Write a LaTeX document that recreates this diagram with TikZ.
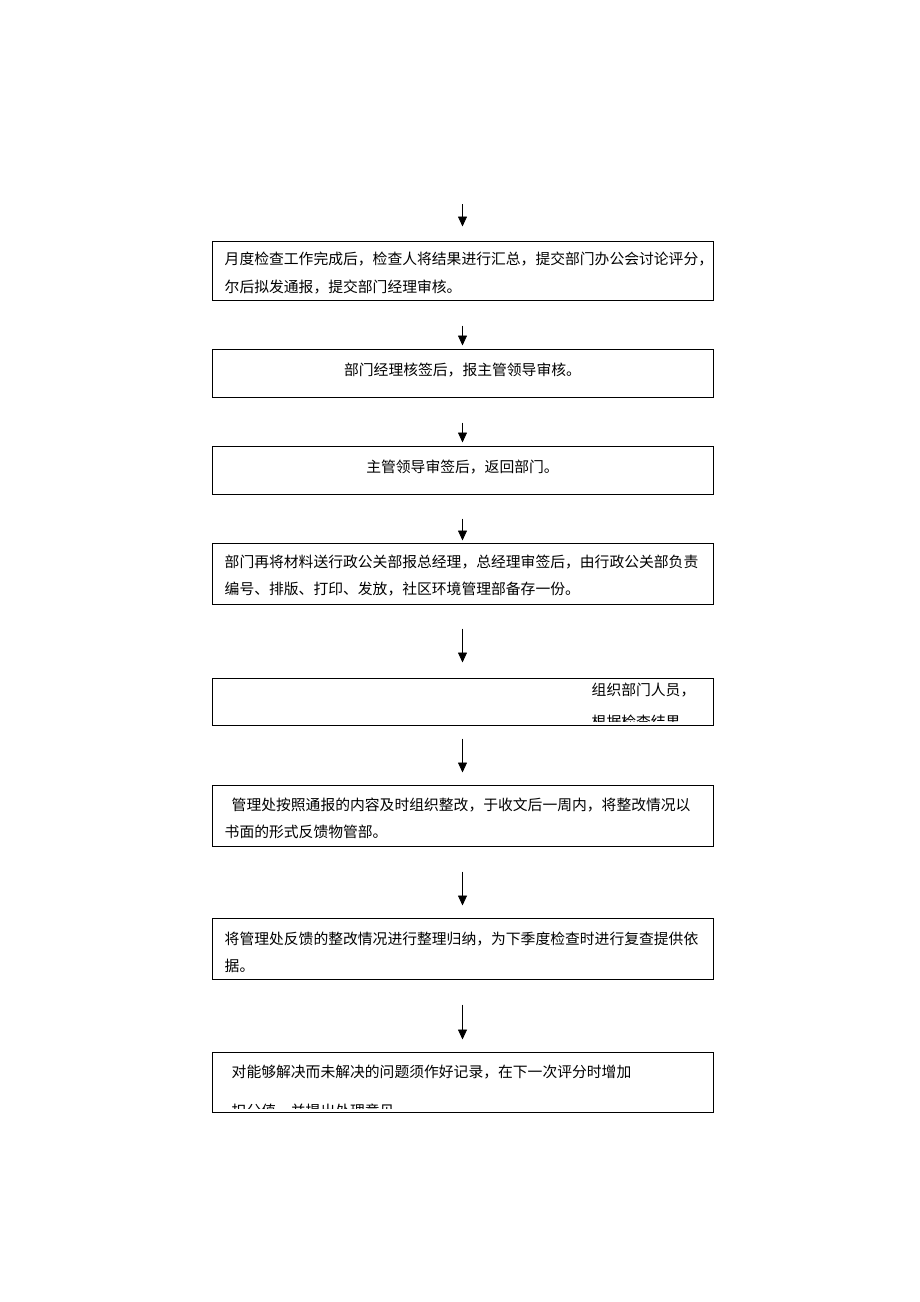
\documentclass[tikz,border=0pt]{standalone}
\usepackage{fontspec}
\newfontfamily\cjk{Noto Sans CJK SC}
\usetikzlibrary{positioning,arrows.meta}

\tikzset{
  stepbox/.style={draw, line width=1pt, minimum width=501pt, inner sep=0pt},
  txt/.style={inner sep=0pt, align=left, font=\cjk\fontsize{14.8}{27.5}\selectfont},
  >={Triangle[length=10pt,width=9pt]}
}

\begin{document}
\begin{tikzpicture}[x=1pt,y=-1pt]
  \useasboundingbox (0,0) rectangle (920,1302);

  % boxes
  \node[stepbox, minimum height=59pt] (b1) at (462.5,270.5) {};
  \node[stepbox, minimum height=48pt] (b2) at (462.5,373) {};
  \node[stepbox, minimum height=48pt] (b3) at (462.5,470) {};
  \node[stepbox, minimum height=61pt] (b4) at (462.5,573.5) {};
  \node[stepbox, minimum height=47pt] (b5) at (462.5,701.5) {};
  \node[stepbox, minimum height=61pt] (b6) at (462.5,815.5) {};
  \node[stepbox, minimum height=61pt] (b7) at (462.5,948.5) {};
  \node[stepbox, minimum height=60pt] (b8) at (462.5,1082) {};
  \coordinate (top) at (462.5,204);

  % texts
  \node[txt, right=13pt of b1.west, yshift=-2.5pt] (t1)
    {月度检查工作完成后，检查人将结果进行汇总，提交部门办公会讨论评分，\\尔后拟发通报，提交部门经理审核。};
  \node[txt, yshift=3pt] (t2) at (b2) {部门经理核签后，报主管领导审核。};
  \node[txt, yshift=3pt] (t3) at (b3) {主管领导审签后，返回部门。};
  \node[txt, right=13pt of b4.west, yshift=-2pt] (t4)
    {部门再将材料送行政公关部报总经理，总经理审签后，由行政公关部负责\\编号、排版、打印、发放，社区环境管理部备存一份。};
  \begin{scope}
    \clip ([yshift=4pt]b5.south west) rectangle (b5.north east);
    \node[txt, right=380pt of b5.west, yshift=-4.5pt] (t5) {组织部门人员，\\[4.5pt]根据检查结果};
  \end{scope}
  \node[txt, right=13pt of b6.west, yshift=-3pt] (t6)
    {\hspace*{7pt}管理处按照通报的内容及时组织整改，于收文后一周内，将整改情况以\\书面的形式反馈物管部。};
  \node[txt, right=13pt of b7.west, yshift=-4pt] (t7)
    {将管理处反馈的整改情况进行整理归纳，为下季度检查时进行复查提供依\\据。};
  \begin{scope}
    \clip ([yshift=4pt]b8.south west) rectangle (b8.north east);
    \node[txt, right=20pt of b8.west, yshift=-9.5pt] (t8)
      {对能够解决而未解决的问题须作好记录，在下一次评分时增加\\[11.5pt]扣分值，并提出处理意见};
  \end{scope}

  % arrows
  \path[->, line width=0.8pt]
  (top) edge [shorten >=14pt] (b1)
  (b1) edge [shorten <=25pt, shorten >=3pt] (b2)
  (b2) edge [shorten <=25pt, shorten >=3pt] (b3)
  (b3) edge [shorten <=24pt, shorten >=2pt] (b4)
  (b4) edge [shorten <=24pt, shorten >=15pt] (b5)
  (b5) edge [shorten <=13pt, shorten >=12pt] (b6)
  (b6) edge [shorten <=25pt, shorten >=12pt] (b7)
  (b7) edge [shorten <=25pt, shorten >=12pt] (b8)
  ;
\end{tikzpicture}
\end{document}
